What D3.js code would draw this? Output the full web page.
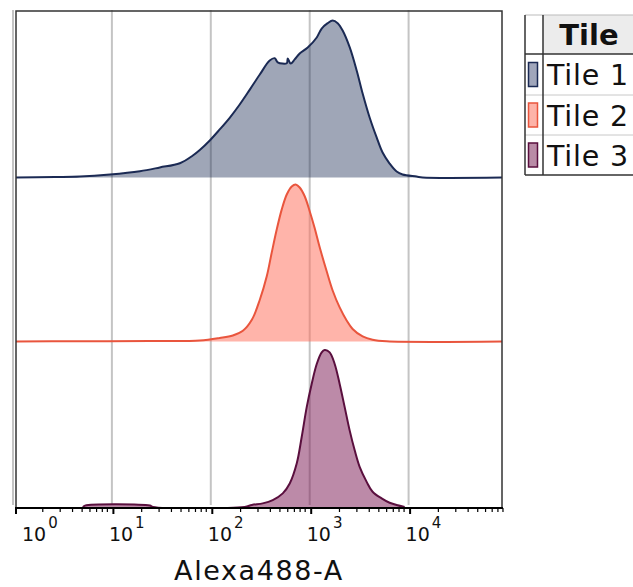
<!DOCTYPE html>
<html>
<head>
<meta charset="utf-8">
<script src="https://cdn.jsdelivr.net/npm/d3@7"></script>
<style>
  html, body { margin: 0; padding: 0; background: #fff; }
  svg { display: block; font-family: "DejaVu Sans", "Noto Sans", sans-serif; }
</style>
</head>
<body>
<svg id="chart" width="633" height="587"></svg>
<script>
// ---------- data ----------
const categories = ["Tile 1", "Tile 2", "Tile 3"];
const strokeColors = ["#1b2a54", "#e9553d", "#5a0f3e"];
const areaColors = ["#1b2a54", "#ff6a55", "#7a1552"];
const fillColors = ["#a0a6bb", "#fdb3a8", "#b98ba6"];

// Alexa488-A intensity (x) and mode-normalised count, % of max (y)
const tile1X = [1, 2.66, 4.75, 9.55, 19.2, 30.5, 48.6, 65.8, 77.4, 97.7, 123, 156, 196, 248, 313, 394, 443, 475, 586, 600, 643, 705, 792, 955, 1178, 1322, 1520, 1706, 1918, 2153, 2535, 2985, 3430, 4037, 4753, 5458, 6427, 7568, 8692, 12050, 13840, 100000];
const tile1Y = [0, 0.3, 0.6, 1.9, 4.0, 6.4, 9.1, 14, 17.5, 23.6, 30.6, 38.2, 46.5, 56, 65.6, 74.5, 76, 73.4, 72.8, 75.8, 72.6, 75.2, 79, 82.8, 89.2, 94.9, 98.3, 100, 98.3, 93.6, 83, 68.2, 53.5, 38.2, 25.5, 15.9, 8.9, 3.8, 1.9, 0.6, 0, 0];

const tile2X = [1, 4.53, 24.2, 77.4, 123, 167, 211, 260, 313, 368, 413, 464, 521, 586, 658, 722, 792, 890, 1000, 1124, 1262, 1485, 1706, 2009, 2364, 2716, 3430, 4325, 5998, 100000];
const tile2Y = [0, 0.2, 0.3, 0.6, 2.2, 3.8, 6.8, 13.8, 26.6, 41.5, 56.6, 71.3, 84, 93.6, 98.7, 100, 98.1, 92.5, 83, 72.1, 60, 44.7, 32.5, 21.7, 13.4, 8, 3.2, 1.1, 0.1, 0];

const tile3X = [5.09, 5.34, 24.2, 26, 220, 260, 335, 423, 534, 628, 739, 830, 933, 1047, 1178, 1322, 1418, 1592, 1789, 2009, 2258, 2535, 2851, 3199, 3767, 4325, 5337, 6427, 7568, 9120];
const tile3Y = [0, 0.9, 0.9, 0, 0, 1.3, 2.3, 4.4, 8.7, 15, 27.7, 44.6, 63.6, 78.4, 91.1, 98.5, 100, 98.5, 91.1, 78.4, 63.6, 48.8, 36.1, 25.6, 16, 9.7, 5.5, 2.7, 1.3, 0];

const seriesX = [tile1X, tile2X, tile3X];
const seriesY = [tile1Y, tile2Y, tile3Y];

const decadeExponents = [0, 1, 2, 3, 4];
const axisTitle = "Alexa488-A";

// ---------- layout ----------
const svg = d3.select("#chart");
const box = { left: 16, right: 502, top: 11, bottom: 508 };
const baselines = [177.5, 341.5, 507];
const peakHeight = 157;
const fillOpacity = [0.42, 0.5, 0.5];

const x = d3.scaleLog().domain([1, 1e5]).range([13, 13 + 5 * 98.9]);

svg.append("defs").append("clipPath").attr("id", "plotclip")
  .append("rect").attr("x", box.left).attr("y", box.top)
  .attr("width", box.right - box.left).attr("height", box.bottom - box.top);

// grid lines (decades)
svg.append("g").selectAll("line").data(decadeExponents).join("line")
  .attr("x1", d => x(Math.pow(10, d))).attr("x2", d => x(Math.pow(10, d)))
  .attr("y1", box.top - 1).attr("y2", box.bottom - 3)
  .attr("stroke", "#c4c4c4").attr("stroke-width", 2);

// histograms
const plot = svg.append("g").attr("clip-path", "url(#plotclip)");
const curve = d3.curveCatmullRom.alpha(0.5);
categories.forEach((cat, i) => {
  const y = d3.scaleLinear().domain([0, 100]).range([baselines[i], baselines[i] - peakHeight]);
  const pts = seriesX[i].map((v, j) => [v, seriesY[i][j]]);
  const area = d3.area().x(d => x(d[0])).y0(baselines[i]).y1(d => Math.min(y(d[1]), baselines[i])).curve(curve);
  const line = d3.line().x(d => x(d[0])).y(d => y(d[1])).curve(curve);
  plot.append("path").datum(pts).attr("d", area)
    .attr("fill", areaColors[i]).attr("fill-opacity", fillOpacity[i]);
  plot.append("path").datum(pts).attr("d", line)
    .attr("fill", "none").attr("stroke", strokeColors[i]).attr("stroke-width", 2)
    .attr("stroke-linejoin", "round");
});

// frame
svg.append("rect").attr("x", box.left).attr("y", box.top)
  .attr("width", box.right - box.left).attr("height", box.bottom - box.top)
  .attr("fill", "none").attr("stroke", "#333").attr("stroke-width", 1.5);

// axis ticks
const minorTicks = [];
decadeExponents.forEach(e => { for (let m = 2; m <= 9; m++) minorTicks.push(m * Math.pow(10, e)); });
const axisG = svg.append("g");
axisG.append("line").attr("x1", box.left - 1).attr("x2", box.right + 1)
  .attr("y1", box.bottom).attr("y2", box.bottom).attr("stroke", "#000").attr("stroke-width", 2);
axisG.selectAll("line.minor").data(minorTicks.filter(v => x(v) <= box.right + 1)).join("line")
  .attr("class", "minor")
  .attr("x1", d => x(d)).attr("x2", d => x(d))
  .attr("y1", box.bottom).attr("y2", box.bottom + 4)
  .attr("stroke", "#000").attr("stroke-width", 1.2);
axisG.selectAll("line.major").data(decadeExponents.filter(e => x(Math.pow(10, e)) >= box.left - 4)).join("line")
  .attr("class", "major")
  .attr("x1", d => Math.max(x(Math.pow(10, d)) + 1.5, box.left)).attr("x2", d => Math.max(x(Math.pow(10, d)) + 1.5, box.left))
  .attr("y1", box.bottom).attr("y2", box.bottom + 6)
  .attr("stroke", "#000").attr("stroke-width", 2);

// tick labels 10^n
const lab = axisG.selectAll("text.tick").data(decadeExponents).join("text")
  .attr("class", "tick")
  .attr("x", d => Math.max(x(Math.pow(10, d)) - 3, 22))
  .attr("y", 541)
  .attr("font-size", 19).attr("fill", "#111");
lab.append("tspan").text("10");
lab.append("tspan").attr("dx", 2).attr("dy", -13).attr("font-size", 15).text(d => d);

// axis title
svg.append("text").attr("x", (box.left + box.right) / 2).attr("y", 580)
  .attr("text-anchor", "middle").attr("font-size", 27).attr("letter-spacing", 1.6).attr("fill", "#111")
  .text(axisTitle);

// ---------- legend table ----------
const leg = svg.append("g");
const lx0 = 525, lx1 = 543, lx2 = 640;
const rowTops = [15, 54, 95, 135, 175];
leg.append("rect").attr("x", lx1).attr("y", rowTops[0]).attr("width", lx2 - lx1).attr("height", rowTops[1] - rowTops[0])
  .attr("fill", "#ececec");
leg.selectAll("line.row").data(rowTops).join("line").attr("class", "row")
  .attr("x1", lx0).attr("x2", lx2).attr("y1", d => d).attr("y2", d => d)
  .attr("stroke", (d, i) => (i === 2 || i === 3) ? "#c8c8c8" : (i === 0 ? "#bbb" : "#333"))
  .attr("stroke-width", (d, i) => (i === 1 || i === 4) ? 1.5 : 1);
leg.append("line").attr("x1", lx0).attr("x2", lx0).attr("y1", rowTops[0]).attr("y2", rowTops[4])
  .attr("stroke", "#333").attr("stroke-width", 1.5);
leg.append("line").attr("x1", lx1).attr("x2", lx1).attr("y1", rowTops[0]).attr("y2", rowTops[4])
  .attr("stroke", "#333").attr("stroke-width", 1.5);
leg.append("text").attr("x", 589).attr("y", 45).attr("text-anchor", "middle")
  .attr("font-size", 29).attr("font-weight", "bold").attr("fill", "#111").text("Tile");
categories.forEach((cat, i) => {
  const cy = (rowTops[i + 1] + rowTops[i + 2]) / 2;
  leg.append("rect").attr("x", 528.5).attr("y", cy - 12).attr("width", 9).attr("height", 24)
    .attr("fill", fillColors[i]).attr("stroke", strokeColors[i]).attr("stroke-width", 1.5);
  leg.append("text").attr("x", 547).attr("y", cy + 10.5)
    .attr("font-size", 28.5).attr("letter-spacing", 0.8).attr("fill", "#111").text(cat);
});
</script>
</body>
</html>
